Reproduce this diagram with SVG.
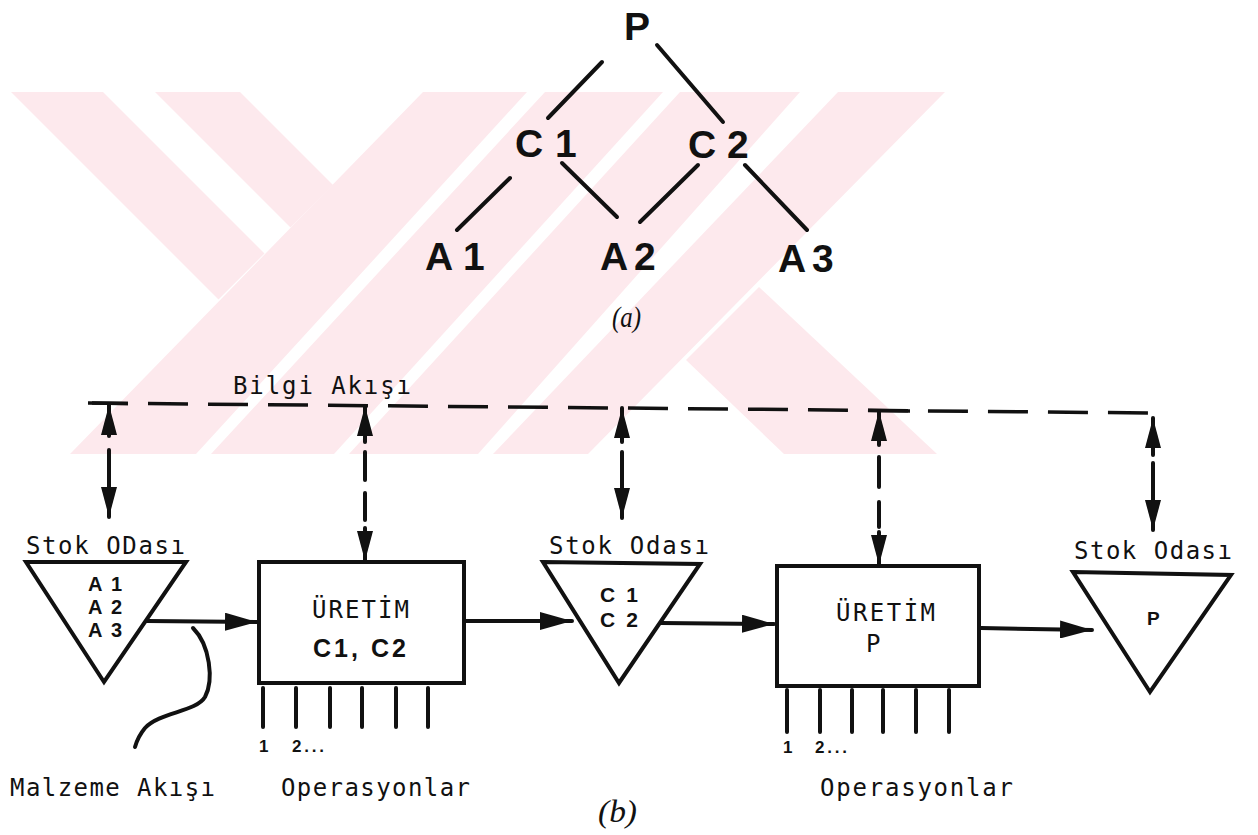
<svg xmlns="http://www.w3.org/2000/svg" width="1258" height="835" viewBox="0 0 1258 835">
<defs>
<style>
.wm{fill:#fde9ed;stroke:none}
.ln{stroke:#111;stroke-width:4;fill:none;stroke-linecap:round}
.sh{stroke:#111;stroke-width:4;fill:none;stroke-linejoin:miter}
.dash{stroke:#111;stroke-width:3.5;fill:none;stroke-dasharray:40 20}
.tree{font-family:"Liberation Sans",Arial,sans-serif;font-weight:bold;font-size:39px;fill:#111}
.mono{font-family:"DejaVu Sans Mono","Liberation Mono",monospace;font-size:24px;fill:#111}
.bs{font-family:"Liberation Sans",Arial,sans-serif;font-weight:bold;fill:#111}
.it{font-family:"Liberation Serif","Times New Roman",serif;font-style:italic;fill:#111}
</style>
<marker id="ah" viewBox="0 0 32 18" markerWidth="32" markerHeight="18" refX="32" refY="9" orient="auto" markerUnits="userSpaceOnUse">
<path d="M0,0 L32,9 L0,18 z" fill="#111"/>
</marker>
<marker id="av" viewBox="0 0 30 16" markerWidth="30" markerHeight="16" refX="30" refY="8" orient="auto" markerUnits="userSpaceOnUse">
<path d="M0,0 L30,8 L0,16 z" fill="#111"/>
</marker>
</defs>
<rect x="0" y="0" width="1258" height="835" fill="#ffffff"/>
<g id="watermark">
<polygon class="wm" points="11,92 103,92 264.5,253.5 218.5,299.5"/>
<polygon class="wm" points="155,92 240,92 333,185 290.5,227.5"/>
<polygon class="wm" points="423,92 527,92 196,454 70,454"/>
<polygon class="wm" points="545,92 663,92 334,454 211,454"/>
<polygon class="wm" points="680,92 800,92 478,454 349,454"/>
<polygon class="wm" points="838,92 945,92 588,454 493,454"/>
<polygon class="wm" points="759,287 937,454 784,454 686,360"/>
</g>
<g id="connectors">
<line class="ln" x1="602" y1="62" x2="548" y2="118"/>
<line class="ln" x1="657" y1="45" x2="723" y2="122"/>
<line class="ln" x1="510" y1="178" x2="457" y2="230"/>
<line class="ln" x1="562" y1="163" x2="617" y2="217"/>
<line class="ln" x1="698" y1="165" x2="640" y2="222"/>
<line class="ln" x1="745" y1="165" x2="807" y2="230"/>
<path class="dash" d="M88,403 L1152,413 L1153,420"/>
<line x1="92" y1="403" x2="128" y2="403.4" stroke="#111" stroke-width="3.5"/>
<line x1="868" y1="410.6" x2="910" y2="411" stroke="#111" stroke-width="3.5"/>
<line class="ln" x1="109" y1="436" x2="109" y2="405" marker-end="url(#av)"/>
<line class="ln" x1="109" y1="450" x2="109" y2="517" marker-end="url(#av)"/>
<line class="ln" x1="365" y1="442" x2="365" y2="406" marker-end="url(#av)"/>
<line class="ln" x1="365" y1="452" x2="365" y2="480"/>
<line class="ln" x1="365" y1="493" x2="365" y2="520"/>
<line class="ln" x1="365" y1="528" x2="365" y2="561" marker-end="url(#av)"/>
<line class="ln" x1="622" y1="442" x2="622" y2="408" marker-end="url(#av)"/>
<line class="ln" x1="622" y1="452" x2="622" y2="518" marker-end="url(#av)"/>
<line class="ln" x1="879" y1="445" x2="879" y2="411" marker-end="url(#av)"/>
<line class="ln" x1="879" y1="457" x2="879" y2="487"/>
<line class="ln" x1="879" y1="502" x2="879" y2="527"/>
<line class="ln" x1="879" y1="532" x2="879" y2="565" marker-end="url(#av)"/>
<line class="ln" x1="1153" y1="455" x2="1153" y2="418" marker-end="url(#av)"/>
<line class="ln" x1="1153" y1="463" x2="1153" y2="530" marker-end="url(#av)"/>
<line class="ln" x1="147" y1="621" x2="257" y2="622" marker-end="url(#ah)"/>
<line class="ln" x1="466" y1="621" x2="572" y2="621" marker-end="url(#ah)"/>
<line class="ln" x1="661" y1="623" x2="774" y2="624" marker-end="url(#ah)"/>
<line class="ln" x1="981" y1="628" x2="1092" y2="630" marker-end="url(#ah)"/>
<path class="ln" d="M193,628 C210,645 214,680 205,697 C196,712 160,712 145,728 C140,734 137,740 135,747"/>
</g>
<g id="tree-P"><text class="tree" x="624" y="40">P</text></g>
<g id="tree-C1"><text class="tree" y="157"><tspan x="515">C</tspan><tspan x="555">1</tspan></text></g>
<g id="tree-C2"><text class="tree" y="158"><tspan x="688">C</tspan><tspan x="727">2</tspan></text></g>
<g id="tree-A1"><text class="tree" y="270"><tspan x="425">A</tspan><tspan x="463">1</tspan></text></g>
<g id="tree-A2"><text class="tree" y="270"><tspan x="600">A</tspan><tspan x="634">2</tspan></text></g>
<g id="tree-A3"><text class="tree" y="272"><tspan x="778">A</tspan><tspan x="812">3</tspan></text></g>
<g id="label-a"><text class="it" x="612" y="327" font-size="30" textLength="29" lengthAdjust="spacingAndGlyphs">(a)</text></g>
<g id="info-flow"><text class="mono" x="233" y="394" textLength="178" lengthAdjust="spacing">Bilgi Akışı</text></g>
<g id="stock1">
<text class="mono" x="26" y="554" textLength="159" lengthAdjust="spacing">Stok ODası</text>
<polygon class="sh" points="26,562 186,562 104,682"/>
<text class="bs" x="88" y="591" font-size="20" textLength="34" lengthAdjust="spacing">A1</text>
<text class="bs" x="88" y="614" font-size="20" textLength="34" lengthAdjust="spacing">A2</text>
<text class="bs" x="88" y="637" font-size="20" textLength="34" lengthAdjust="spacing">A3</text>
</g>
<g id="prod1">
<rect class="sh" x="259" y="562" width="205" height="121"/>
<text class="mono" x="312" y="618" textLength="97" lengthAdjust="spacing">ÜRETİM</text>
<text class="bs" x="313" y="657" font-size="25" textLength="93" lengthAdjust="spacing">C1, C2</text>
<line class="ln" x1="263" y1="688" x2="263" y2="727"/>
<line class="ln" x1="296" y1="688" x2="296" y2="727"/>
<line class="ln" x1="330" y1="688" x2="330" y2="727"/>
<line class="ln" x1="362" y1="688" x2="362" y2="727"/>
<line class="ln" x1="396" y1="688" x2="396" y2="727"/>
<line class="ln" x1="428" y1="688" x2="428" y2="727"/>
<text class="bs" x="259" y="752" font-size="17">1</text>
<text class="bs" x="292" y="752" font-size="17" textLength="32" lengthAdjust="spacing">2...</text>
</g>
<g id="stock2">
<text class="mono" x="549" y="554" textLength="160" lengthAdjust="spacing">Stok Odası</text>
<polygon class="sh" points="543,562 700,564 619,683"/>
<text class="bs" x="600" y="602" font-size="21" textLength="38" lengthAdjust="spacing">C1</text>
<text class="bs" x="600" y="627" font-size="21" textLength="38" lengthAdjust="spacing">C2</text>
</g>
<g id="prod2">
<rect class="sh" x="777" y="566" width="202" height="120"/>
<text class="mono" x="836" y="621" textLength="99" lengthAdjust="spacing">ÜRETİM</text>
<text class="mono" x="866" y="652">P</text>
<line class="ln" x1="787" y1="690" x2="787" y2="732"/>
<line class="ln" x1="820" y1="690" x2="820" y2="732"/>
<line class="ln" x1="852" y1="690" x2="852" y2="732"/>
<line class="ln" x1="883" y1="690" x2="883" y2="732"/>
<line class="ln" x1="916" y1="690" x2="916" y2="732"/>
<line class="ln" x1="949" y1="690" x2="949" y2="732"/>
<text class="bs" x="783" y="753" font-size="17">1</text>
<text class="bs" x="815" y="753" font-size="17" textLength="32" lengthAdjust="spacing">2...</text>
</g>
<g id="stock3">
<text class="mono" x="1074" y="559" textLength="158" lengthAdjust="spacing">Stok Odası</text>
<polygon class="sh" points="1073,572 1231,575 1150,692"/>
<text class="bs" x="1147" y="625" font-size="19">P</text>
</g>
<g id="bottom-labels">
<text class="mono" x="10" y="796" textLength="205" lengthAdjust="spacing">Malzeme Akışı</text>
<text class="mono" x="281" y="796" textLength="189" lengthAdjust="spacing">Operasyonlar</text>
<text class="mono" x="820" y="796" textLength="193" lengthAdjust="spacing">Operasyonlar</text>
<text class="it" x="598" y="822" font-size="31" textLength="39" lengthAdjust="spacingAndGlyphs">(b)</text>
</g>
</svg>
